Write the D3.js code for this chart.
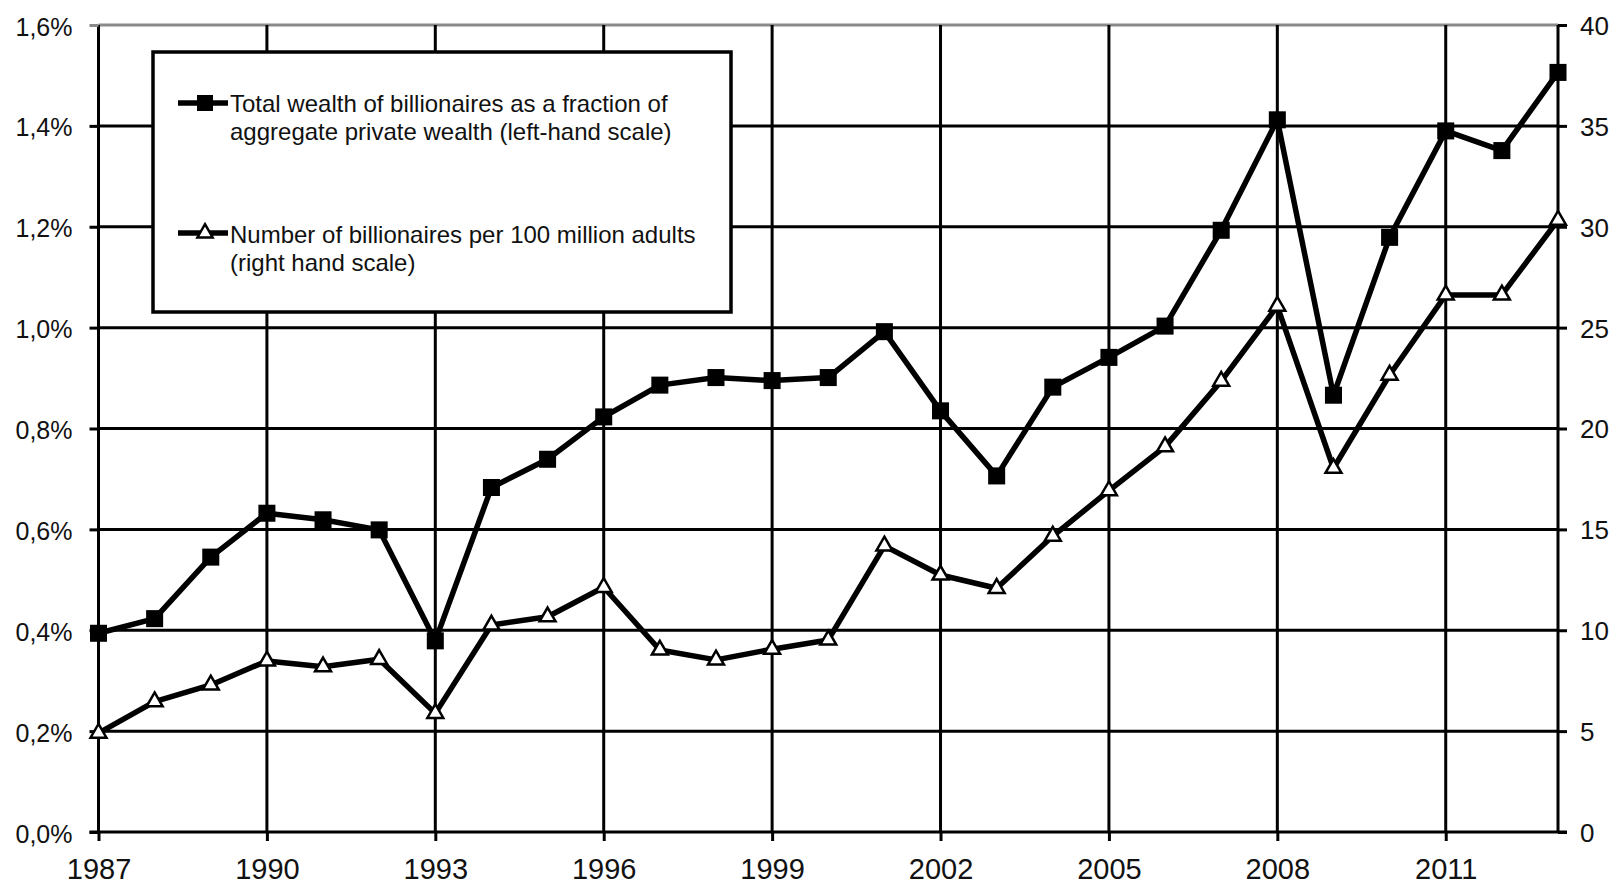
<!DOCTYPE html>
<html>
<head>
<meta charset="utf-8">
<script src="https://cdn.jsdelivr.net/npm/d3@7"></script>
<style>
  html, body { margin: 0; padding: 0; background: #fff; }
  svg { display: block; font-family: "Liberation Sans", Arial, sans-serif; }
</style>
</head>
<body>
<svg id="chart" width="1615" height="887"></svg>
<script>
// ---- data ----
const years = [1987,1988,1989,1990,1991,1992,1993,1994,1995,1996,1997,1998,1999,2000,2001,2002,2003,2004,2005,2006,2007,2008,2009,2010,2011,2012,2013];
// Total wealth of billionaires as a fraction of aggregate private wealth (%), left scale
const wealthShare = [0.394,0.423,0.545,0.632,0.619,0.599,0.379,0.683,0.739,0.823,0.886,0.901,0.895,0.901,0.992,0.835,0.706,0.882,0.941,1.003,1.193,1.412,0.866,1.179,1.390,1.351,1.506];
// Number of billionaires per 100 million adults, right scale
const billionairesPer100m = [4.9,6.46,7.29,8.48,8.19,8.56,5.88,10.26,10.67,12.13,9.02,8.53,9.06,9.52,14.18,12.74,12.08,14.67,16.92,19.10,22.35,26.07,18.03,22.65,26.62,26.62,30.33];

const xTickYears = [1987,1990,1993,1996,1999,2002,2005,2008,2011];
const leftTicks = [0,0.2,0.4,0.6,0.8,1.0,1.2,1.4,1.6];
const rightTicks = [0,5,10,15,20,25,30,35,40];
const legendLabels = [
  ["Total wealth of billionaires as a fraction of", "aggregate private wealth (left-hand scale)"],
  ["Number of billionaires per 100 million adults", "(right hand scale)"]
];

// ---- layout ----
const svg = d3.select("#chart");
const X0 = 98.5, X1 = 1558, Y0 = 832, Y1 = 25;

const x = d3.scaleLinear().domain([1987, 2013]).range([X0, X1]);
const yL = d3.scaleLinear().domain([0, 1.6]).range([Y0, Y1]);
const yR = d3.scaleLinear().domain([0, 40]).range([Y0, Y1]);

// horizontal gridlines
svg.append("g").selectAll("line").data(leftTicks.filter(d => d > 0)).join("line")
  .attr("x1", X0).attr("x2", X1)
  .attr("y1", d => yL(d)).attr("y2", d => yL(d))
  .attr("stroke", d => d >= 1.6 ? "#8a8a8a" : "#000")
  .attr("stroke-width", 3);

// vertical gridlines
svg.append("g").selectAll("line").data(xTickYears.filter(d => d > 1987)).join("line")
  .attr("x1", d => x(d)).attr("x2", d => x(d))
  .attr("y1", Y1).attr("y2", Y0)
  .attr("stroke", "#000").attr("stroke-width", 3);

// axes
const fmtL = d => d.toFixed(1).replace(".", ",") + "%";
const gL = svg.append("g").attr("transform", `translate(${X0},0)`)
  .call(d3.axisLeft(yL).tickValues(leftTicks).tickFormat(fmtL).tickSize(9).tickPadding(17));
const gR = svg.append("g").attr("transform", `translate(${X1},0)`)
  .call(d3.axisRight(yR).tickValues(rightTicks).tickFormat(d3.format("d")).tickSize(9).tickPadding(13));
const gB = svg.append("g").attr("transform", `translate(0,${Y0})`)
  .call(d3.axisBottom(x).tickValues(xTickYears).tickFormat(d3.format("d")).tickSize(9).tickPadding(17));

[gL, gR, gB].forEach(g => {
  g.select(".domain").attr("stroke", "#000").attr("stroke-width", 3);
  g.selectAll(".tick line").attr("stroke", "#000").attr("stroke-width", 3);
  g.selectAll("text").attr("fill", "#111").attr("font-family", '"Liberation Sans", Arial, sans-serif');
});
gL.selectAll("text").attr("font-size", 25).attr("dy", "0.4em");
gR.selectAll("text").attr("font-size", 26).attr("dy", "0.36em");
gB.selectAll("text").attr("font-size", 29);
gL.select(".domain").attr("d", `M0,${Y0}V${Y1}`);
gR.select(".domain").attr("d", `M0,${Y0}V${Y1}`);
gB.select(".domain").attr("d", `M${X0 - 9},0H${X1 + 9}`);
// the top tick on left: gray like the top gridline
gL.selectAll(".tick").filter(d => d >= 1.6).select("line").attr("stroke", "#8a8a8a").attr("x2", -9);

// ---- series ----
const lineL = d3.line().x((d, i) => x(years[i])).y(d => yL(d));
const lineR = d3.line().x((d, i) => x(years[i])).y(d => yR(d));

svg.append("path").datum(billionairesPer100m)
  .attr("d", lineR).attr("fill", "none").attr("stroke", "#000")
  .attr("stroke-width", 5.5).attr("stroke-linejoin", "round");
svg.append("g").selectAll("path").data(billionairesPer100m).join("path")
  .attr("transform", (d, i) => `translate(${x(years[i])},${yR(d)})`)
  .attr("d", d3.symbol(d3.symbolTriangle, 110))
  .attr("fill", "#fff").attr("stroke", "#000").attr("stroke-width", 2.5);

svg.append("path").datum(wealthShare)
  .attr("d", lineL).attr("fill", "none").attr("stroke", "#000")
  .attr("stroke-width", 5.5).attr("stroke-linejoin", "round");
svg.append("g").selectAll("path").data(wealthShare).join("path")
  .attr("transform", (d, i) => `translate(${x(years[i])},${yL(d)})`)
  .attr("d", d3.symbol(d3.symbolSquare, 290))
  .attr("fill", "#000");

// ---- legend ----
const lg = svg.append("g");
lg.append("rect").attr("x", 153).attr("y", 52).attr("width", 578).attr("height", 260)
  .attr("fill", "#fff").attr("stroke", "#000").attr("stroke-width", 3.5);

const legendRows = [
  { y: 103, marker: "square", lines: legendLabels[0], base: 111.5 },
  { y: 233, marker: "triangle", lines: legendLabels[1], base: 243 }
];
legendRows.forEach(r => {
  lg.append("line").attr("x1", 178).attr("x2", 228).attr("y1", r.y).attr("y2", r.y)
    .attr("stroke", "#000").attr("stroke-width", 5.5);
  if (r.marker === "square") {
    lg.append("path").attr("transform", `translate(205,${r.y})`)
      .attr("d", d3.symbol(d3.symbolSquare, 256)).attr("fill", "#000");
  } else {
    lg.append("path").attr("transform", `translate(205,${r.y})`)
      .attr("d", d3.symbol(d3.symbolTriangle, 100))
      .attr("fill", "#fff").attr("stroke", "#000").attr("stroke-width", 2.5);
  }
  r.lines.forEach((t, k) => {
    lg.append("text").attr("x", 230).attr("y", r.base + k * 28)
      .attr("font-size", 24).attr("fill", "#111").text(t);
  });
});
</script>
</body>
</html>
